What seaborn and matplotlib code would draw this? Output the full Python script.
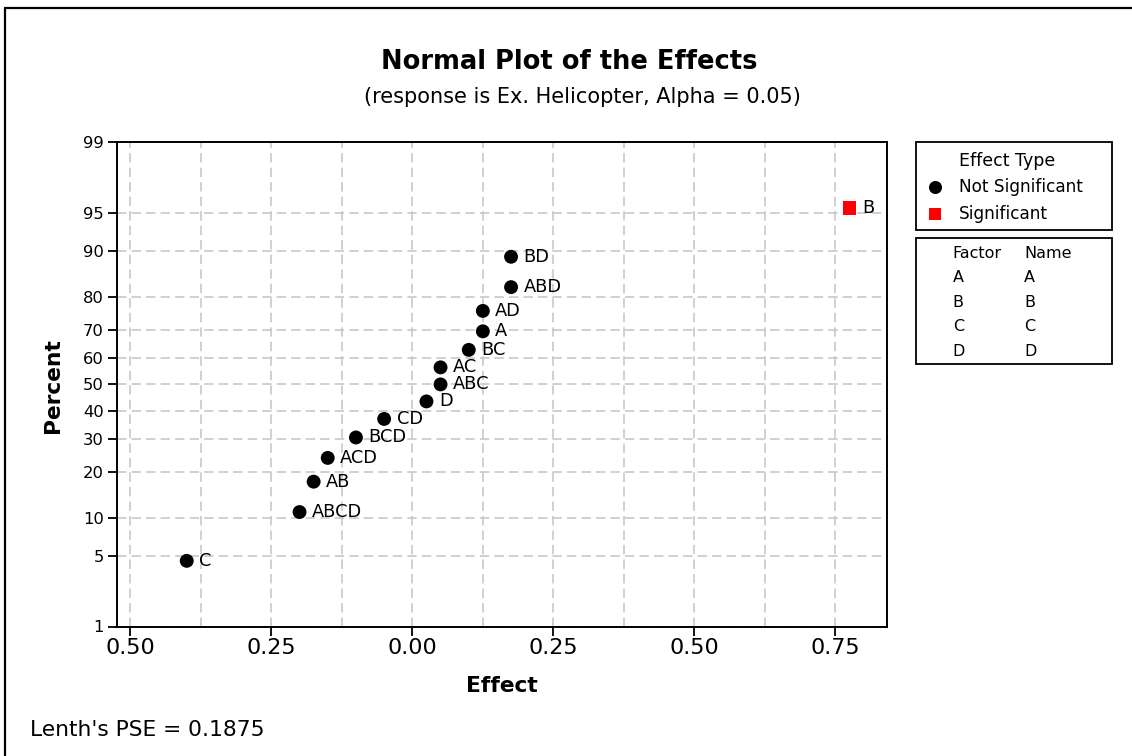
import numpy as np
import pandas as pd
import matplotlib
matplotlib.use("Agg")
import matplotlib.pyplot as plt
import seaborn as sns
from statistics import NormalDist
from matplotlib.patches import Rectangle
from matplotlib.lines import Line2D

# ---------------- data ----------------
terms = ["C", "ABCD", "AB", "ACD", "BCD", "CD", "D", "ABC", "AC", "BC",
         "A", "AD", "ABD", "BD", "B"]
effects = [-0.400, -0.200, -0.175, -0.150, -0.100, -0.050, 0.025, 0.050,
           0.050, 0.100, 0.125, 0.125, 0.175, 0.175, 0.775]
percents = [4.5, 11.0, 17.5, 24.0, 30.5, 37.0, 43.5, 50.0, 56.5, 63.0,
            69.5, 76.0, 82.5, 89.0, 95.5]
effect_types = ["Not Significant"] * 14 + ["Significant"]

x_ticks = [-0.50, -0.25, 0.00, 0.25, 0.50, 0.75]
x_tick_labels = ["0.50", "0.25", "0.00", "0.25", "0.50", "0.75"]
x_grid_minor = [-0.375, -0.125, 0.125, 0.375, 0.625]
y_ticks = [1, 5, 10, 20, 30, 40, 50, 60, 70, 80, 90, 95, 99]
y_tick_labels = ["1", "5", "10", "20", "30", "40", "50", "60", "70", "80",
                 "90", "95", "99"]

factors = ["A", "B", "C", "D"]
factor_names = ["A", "B", "C", "D"]

title = "Normal Plot of the Effects"
subtitle = "(response is Ex. Helicopter, Alpha = 0.05)"
footnote = "Lenth's PSE = 0.1875"

df = pd.DataFrame({"Term": terms, "Effect": effects, "Percent": percents,
                   "Type": effect_types})

# ---------------- style ----------------
sns.set_theme(style="white")
plt.rcParams["font.family"] = ["DejaVu Sans"]
plt.rcParams["text.color"] = "black"
plt.rcParams["axes.labelcolor"] = "black"
plt.rcParams["xtick.color"] = "black"
plt.rcParams["ytick.color"] = "black"

W, H = 1132, 756
fx = lambda px: px / W
fy = lambda py: 1 - py / H

fig = plt.figure(figsize=(W / 100, H / 100), dpi=100)
fig.patch.set_facecolor("white")

ax_l, ax_r, ax_t, ax_b = 116.5, 887.0, 142.3, 626.5
ax = fig.add_axes([fx(ax_l), fy(ax_b), (ax_r - ax_l) / W, (ax_b - ax_t) / H])

# normal probability scale
_nd = NormalDist()


def _fwd(p):
    p = np.asarray(p, dtype=float)
    f = np.vectorize(lambda v: _nd.inv_cdf(min(max(v / 100.0, 1e-9), 1 - 1e-9))
                     if np.isfinite(v) else np.nan, otypes=[float])
    return f(p)


def _inv(z):
    z = np.asarray(z, dtype=float)
    f = np.vectorize(lambda v: _nd.cdf(v) * 100.0 if np.isfinite(v) else np.nan,
                     otypes=[float])
    return f(z)


ax.set_yscale("function", functions=(_fwd, _inv))

sns.scatterplot(data=df, x="Effect", y="Percent", hue="Type", style="Type",
                palette={"Not Significant": "black", "Significant": "#ff0000"},
                markers={"Not Significant": "o", "Significant": "s"},
                s=100, linewidth=0, legend=False, ax=ax, zorder=3)

for t, xv, yv in zip(terms, effects, percents):
    ax.annotate(t, (xv, yv), xytext=(9, 0), textcoords="offset points",
                va="center", ha="left", fontsize=12.8, color="black")

ax.set_xlim(-0.5245, 0.8415)
ax.set_ylim(1, 99)

ax.set_xticks(x_ticks)
ax.set_xticklabels(x_tick_labels)
ax.set_xticks(x_grid_minor, minor=True)
ax.set_yticks(y_ticks)
ax.set_yticklabels(y_tick_labels)
ax.yaxis.set_minor_locator(matplotlib.ticker.NullLocator())

grid_kw = dict(color="#c4c4c4", linewidth=1.1, linestyle=(0, (6.2, 3.3)))
ax.grid(True, which="both", axis="x", **grid_kw)
ax.grid(True, which="major", axis="y", **grid_kw)
ax.set_axisbelow(True)

ax.tick_params(axis="x", which="major", bottom=True, direction="out",
               length=6.5, width=1.3, color="black", labelsize=16, pad=2,
               labelcolor="black")
ax.tick_params(axis="x", which="minor", bottom=False, length=0)
ax.tick_params(axis="y", which="major", left=True, direction="out",
               length=6.5, width=1.3, color="black", labelsize=11.8, pad=2.5,
               labelcolor="black")

for sp in ax.spines.values():
    sp.set_color("black")
    sp.set_linewidth(1.4)

ax.set_xlabel("Effect", fontsize=15.7, fontweight="bold", color="black")
ax.set_ylabel("Percent", fontsize=15.7, fontweight="bold", color="black")
ax.xaxis.set_label_coords((502 - ax_l) / (ax_r - ax_l), (ax_b - 686) / (ax_b - ax_t),
                          transform=ax.transAxes)
ax.xaxis.label.set_va("center")
ax.yaxis.set_label_coords((53 - ax_l) / (ax_r - ax_l), (ax_b - 386) / (ax_b - ax_t),
                          transform=ax.transAxes)
ax.yaxis.label.set_va("center")

# ---------------- titles / notes ----------------
fig.text(fx(569), fy(62), title, ha="center", va="center", fontsize=18.5,
         fontweight="bold", color="black")
fig.text(fx(582), fy(97), subtitle, ha="center", va="center", fontsize=15,
         color="black")
fig.text(fx(30), fy(730), footnote, ha="left", va="center", fontsize=15.7,
         color="black")

# figure frame (left and top edges)
fig.add_artist(Line2D([fx(4.5), fx(4.5)], [0, fy(7.5)], transform=fig.transFigure,
                      color="black", lw=1.6))
fig.add_artist(Line2D([fx(4.5), 1], [fy(7.5), fy(7.5)], transform=fig.transFigure,
                      color="black", lw=1.6))

# ---------------- legend boxes ----------------
bx_l, bx_r = 916, 1112
fig.add_artist(Rectangle((fx(bx_l), fy(230)), (bx_r - bx_l) / W, (230 - 142.3) / H,
                         transform=fig.transFigure, fill=False, ec="black", lw=1.3))
fig.add_artist(Rectangle((fx(bx_l), fy(364.3)), (bx_r - bx_l) / W, (364.3 - 238) / H,
                         transform=fig.transFigure, fill=False, ec="black", lw=1.3))

fig.text(fx(959), fy(160.7), "Effect Type", ha="left", va="center", fontsize=12.5,
         color="black")
fig.add_artist(Line2D([fx(935)], [fy(187.3)], marker="o", ms=9.4, color="black",
                      mew=0, transform=fig.transFigure))
fig.text(fx(959), fy(187.3), "Not Significant", ha="left", va="center", fontsize=12.2,
         color="black")
fig.add_artist(Line2D([fx(935)], [fy(214.3)], marker="s", ms=9.2, color="#ff0000",
                      mew=0, transform=fig.transFigure))
fig.text(fx(959), fy(214.3), "Significant", ha="left", va="center", fontsize=12.2,
         color="black")

fig.text(fx(952.7), fy(253), "Factor", ha="left", va="center", fontsize=11.5,
         color="black")
fig.text(fx(1024), fy(253), "Name", ha="left", va="center", fontsize=11.5,
         color="black")
row_y = [277.7, 302.7, 326.7, 351.0]
for f, n, ry in zip(factors, factor_names, row_y):
    fig.text(fx(952.7), fy(ry), f, ha="left", va="center", fontsize=11.5, color="black")
    fig.text(fx(1024), fy(ry), n, ha="left", va="center", fontsize=11.5, color="black")

fig.savefig("out.png", dpi=100, facecolor="white")
